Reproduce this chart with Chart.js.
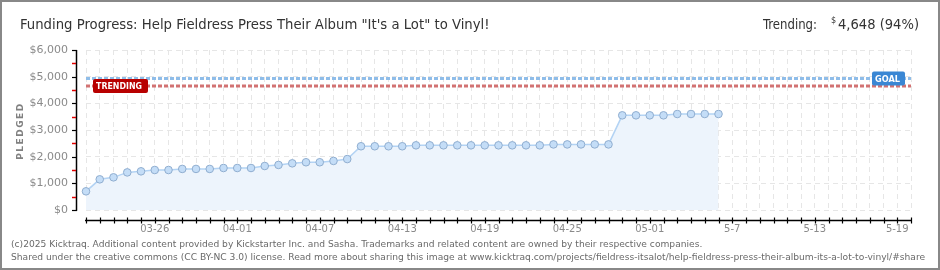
<!DOCTYPE html>
<html>
<head>
<meta charset="utf-8">
<script src="https://cdn.jsdelivr.net/npm/chart.js@4/dist/chart.umd.min.js"></script>
<style>
  html, body { margin: 0; padding: 0; background: #fff; }
  #wrap { position: relative; width: 940px; height: 270px; }
</style>
</head>
<body>
<div id="wrap"><canvas id="c" width="940" height="270"></canvas></div>
<script>
// ---- Data ----
const dates = [
  '03-21','03-22','03-23','03-24','03-25','03-26','03-27','03-28','03-29','03-30','03-31',
  '04-01','04-02','04-03','04-04','04-05','04-06','04-07','04-08','04-09','04-10',
  '04-11','04-12','04-13','04-14','04-15','04-16','04-17','04-18','04-19','04-20',
  '04-21','04-22','04-23','04-24','04-25','04-26','04-27','04-28','04-29','04-30',
  '05-01','05-02','05-03','05-04','05-05','05-06','05-07','05-08','05-09','05-10',
  '05-11','05-12','05-13','05-14','05-15','05-16','05-17','05-18','05-19','05-20'
];
const pledged = [
  700, 1150, 1225, 1410, 1450, 1500, 1500, 1540, 1540, 1540,
  1575, 1575, 1575, 1650, 1690, 1750, 1790, 1790, 1840, 1910,
  2390, 2390, 2390, 2390, 2425, 2425, 2425, 2425, 2425, 2425,
  2425, 2425, 2425, 2425, 2460, 2460, 2460, 2460, 2460, 3550,
  3550, 3550, 3550, 3600, 3600, 3600, 3600
];
const tickDates  = ['03-26','04-01','04-07','04-13','04-19','04-25','05-01','05-07','05-13','05-19'];
const tickLabels = ['03-26','04-01','04-07','04-13','04-19','04-25','05-01','5-7','5-13','5-19'];
const yTicks = [0, 1000, 2000, 3000, 4000, 5000, 6000];
const goal = 4930;
const trending = 4648;
const trendingPct = 94;

const titleText = 'Funding Progress: Help Fieldress Press Their Album "It\'s a Lot" to Vinyl!';
const footer1 = '(c)2025 Kicktraq. Additional content provided by Kickstarter Inc. and Sasha. Trademarks and related content are owned by their respective companies.';
const footer2 = 'Shared under the creative commons (CC BY-NC 3.0) license. Read more about sharing this image at www.kicktraq.com/projects/fieldress-itsalot/help-fieldress-press-their-album-its-a-lot-to-vinyl/#share';

// ---- helpers ----
function fitFont(ctx, text, family, weight, targetW) {
  ctx.font = weight + ' 20px ' + family;
  const w = ctx.measureText(text).width;
  const s = 20 * targetW / w;
  ctx.font = weight + ' ' + s + 'px ' + family;
  return s;
}
const COND = "'DejaVu Sans Condensed', 'Liberation Sans Narrow', 'DejaVu Sans', sans-serif";
const SANS = "'DejaVu Sans', Verdana, sans-serif";

const decor = {
  id: 'decor',
  beforeDraw(chart) {
    const ctx = chart.ctx;
    ctx.save();
    ctx.fillStyle = '#fff';
    ctx.fillRect(0, 0, chart.width, chart.height);
    ctx.restore();
  },
  afterDatasetsDraw(chart) {
    const ctx = chart.ctx;
    const ys = chart.scales.y;
    ctx.save();
    // TRENDING badge
    const ty = ys.getPixelForValue(trending);
    ctx.fillStyle = '#b80000';
    ctx.beginPath();
    ctx.roundRect(93, ty - 7, 55, 14, 2);
    ctx.fill();
    ctx.fillStyle = '#fff';
    ctx.textBaseline = 'middle';
    ctx.textAlign = 'left';
    ctx.font = 'bold 9.5px ' + SANS;
    const tw = ctx.measureText('TRENDING').width;
    ctx.save();
    ctx.translate(96, ty + 0.5);
    ctx.scale(46 / tw, 1);
    ctx.fillText('TRENDING', 0, 0);
    ctx.restore();
    // GOAL badge
    const gy = ys.getPixelForValue(goal);
    ctx.fillStyle = '#3a87d4';
    ctx.beginPath();
    ctx.roundRect(872, gy - 7, 33, 14, 2);
    ctx.fill();
    ctx.fillStyle = '#fff';
    ctx.font = 'bold 9.5px ' + SANS;
    const gw = ctx.measureText('GOAL').width;
    ctx.save();
    ctx.translate(875, gy + 0.5);
    ctx.scale(25 / gw, 1);
    ctx.fillText('GOAL', 0, 0);
    ctx.restore();
    ctx.restore();
  },
  afterDraw(chart) {
    const ctx = chart.ctx;
    const xs = chart.scales.x, ys = chart.scales.y;
    ctx.save();
    // Y axis line + ticks
    ctx.strokeStyle = '#000';
    ctx.lineWidth = 1.5;
    ctx.beginPath();
    ctx.moveTo(76.5, ys.getPixelForValue(6000));
    ctx.lineTo(76.5, ys.getPixelForValue(0) + 0.75);
    ctx.stroke();
    ctx.lineWidth = 1.2;
    for (const v of yTicks) {
      const y = Math.round(ys.getPixelForValue(v)) + 0.5;
      ctx.beginPath(); ctx.moveTo(72, y); ctx.lineTo(77, y); ctx.stroke();
    }
    ctx.strokeStyle = '#e00000';
    ctx.lineWidth = 1.5;
    for (let i = 0; i < yTicks.length - 1; i++) {
      const v = (yTicks[i] + yTicks[i + 1]) / 2;
      const y = Math.round(ys.getPixelForValue(v)) + 0.5;
      ctx.beginPath(); ctx.moveTo(72, y); ctx.lineTo(76, y); ctx.stroke();
    }
    // X axis line + ticks
    ctx.strokeStyle = '#000';
    ctx.lineWidth = 1.5;
    ctx.beginPath();
    ctx.moveTo(xs.getPixelForValue(0) - 1, 220.5);
    ctx.lineTo(xs.getPixelForValue(dates.length - 1) + 0.5, 220.5);
    ctx.stroke();
    ctx.lineWidth = 1.2;
    for (let i = 0; i < dates.length; i++) {
      const x = Math.round(xs.getPixelForValue(i)) + 0.5;
      ctx.beginPath(); ctx.moveTo(x, 217.5); ctx.lineTo(x, 223.5); ctx.stroke();
    }
    // Y axis title
    ctx.save();
    ctx.translate(21, 131);
    ctx.rotate(-Math.PI / 2);
    ctx.fillStyle = '#808080';
    ctx.textAlign = 'center';
    ctx.textBaseline = 'middle';
    ctx.font = 'bold 9px ' + SANS;
    ctx.letterSpacing = '1.5px';
    ctx.fillText('PLEDGED', 0, 0);
    ctx.restore();
    // Title
    ctx.fillStyle = '#333';
    ctx.textAlign = 'left';
    ctx.textBaseline = 'alphabetic';
    fitFont(ctx, titleText, COND, 'normal', 470);
    ctx.fillText(titleText, 20, 28.5);
    // Trending text (top right)
    ctx.font = 'normal 14px ' + COND;
    const tW = ctx.measureText('Trending:').width;
    ctx.save();
    ctx.translate(763, 28.5);
    ctx.scale(54 / tW, 1);
    ctx.fillText('Trending:', 0, 0);
    ctx.restore();
    ctx.font = 'normal 9px ' + COND;
    ctx.fillText('$', 831, 23);
    const amt = '4,648 (' + trendingPct + '%)';
    ctx.font = 'normal 14px ' + COND;
    const aW = ctx.measureText(amt).width;
    ctx.save();
    ctx.translate(838, 28.5);
    ctx.scale(81 / aW, 1);
    ctx.fillText(amt, 0, 0);
    ctx.restore();
    // Footer
    ctx.fillStyle = '#6a6a6a';
    fitFont(ctx, footer1, SANS, 'normal', 692);
    ctx.fillText(footer1, 11, 246.5);
    ctx.save();
    ctx.beginPath(); ctx.rect(0, 0, 937, 270); ctx.clip();
    ctx.fillText(footer2, 11, 259.5);
    ctx.restore();
    // Border
    ctx.strokeStyle = '#888';
    ctx.lineWidth = 2;
    ctx.strokeRect(1, 1, 938, 268);
    ctx.restore();
  }
};

const ctx = document.getElementById('c').getContext('2d');
new Chart(ctx, {
  type: 'line',
  data: {
    labels: dates,
    datasets: [
      {
        label: 'Goal',
        data: dates.map(() => goal),
        borderColor: '#8fbde9',
        borderWidth: 3,
        borderDash: [4, 2],
        pointRadius: 0,
        fill: false,
        clip: false,
        order: 2
      },
      {
        label: 'Trending',
        data: dates.map(() => trending),
        borderColor: '#d27272',
        borderWidth: 3,
        borderDash: [4, 2],
        pointRadius: 0,
        fill: false,
        clip: false,
        order: 3
      },
      {
        label: 'Pledged',
        data: pledged,
        borderColor: '#b3d3f4',
        borderWidth: 1.5,
        backgroundColor: '#edf4fc',
        fill: 'origin',
        tension: 0,
        pointRadius: 3.8,
        pointBackgroundColor: '#c4ddf7',
        pointBorderColor: '#90aed0',
        pointBorderWidth: 1,
        clip: false,
        order: 1
      }
    ]
  },
  options: {
    responsive: false,
    animation: false,
    events: [],
    layout: { padding: { left: 0, top: 50, right: 29, bottom: 30 } },
    plugins: { legend: { display: false }, tooltip: { enabled: false } },
    scales: {
      x: {
        type: 'category',
        offset: false,
        afterFit(s) { s.height = 30; },
        grid: { color: '#e6e6e6', lineWidth: 1, drawTicks: false, offset: false },
        border: { display: false, dash: [5, 4] },
        ticks: {
          autoSkip: false,
          maxRotation: 0,
          minRotation: 0,
          padding: 13,
          color: '#8a8a8a',
          font: { family: SANS, size: 10 },
          callback(val, i) {
            const k = tickDates.indexOf(dates[i]);
            return k >= 0 ? tickLabels[k] : '';
          }
        }
      },
      y: {
        min: 0,
        max: 6000,
        afterFit(s) { s.width = 86; },
        afterBuildTicks(s) { s.ticks = yTicks.map(v => ({ value: v })); },
        grid: { color: '#e6e6e6', lineWidth: 1, drawTicks: false },
        border: { display: false, dash: [5, 4] },
        ticks: {
          padding: 18,
          color: '#8a8a8a',
          font: { family: SANS, size: 11 },
          callback(v) { return '$' + Number(v).toLocaleString('en-US'); }
        }
      }
    }
  },
  plugins: [decor]
});
</script>
</body>
</html>
